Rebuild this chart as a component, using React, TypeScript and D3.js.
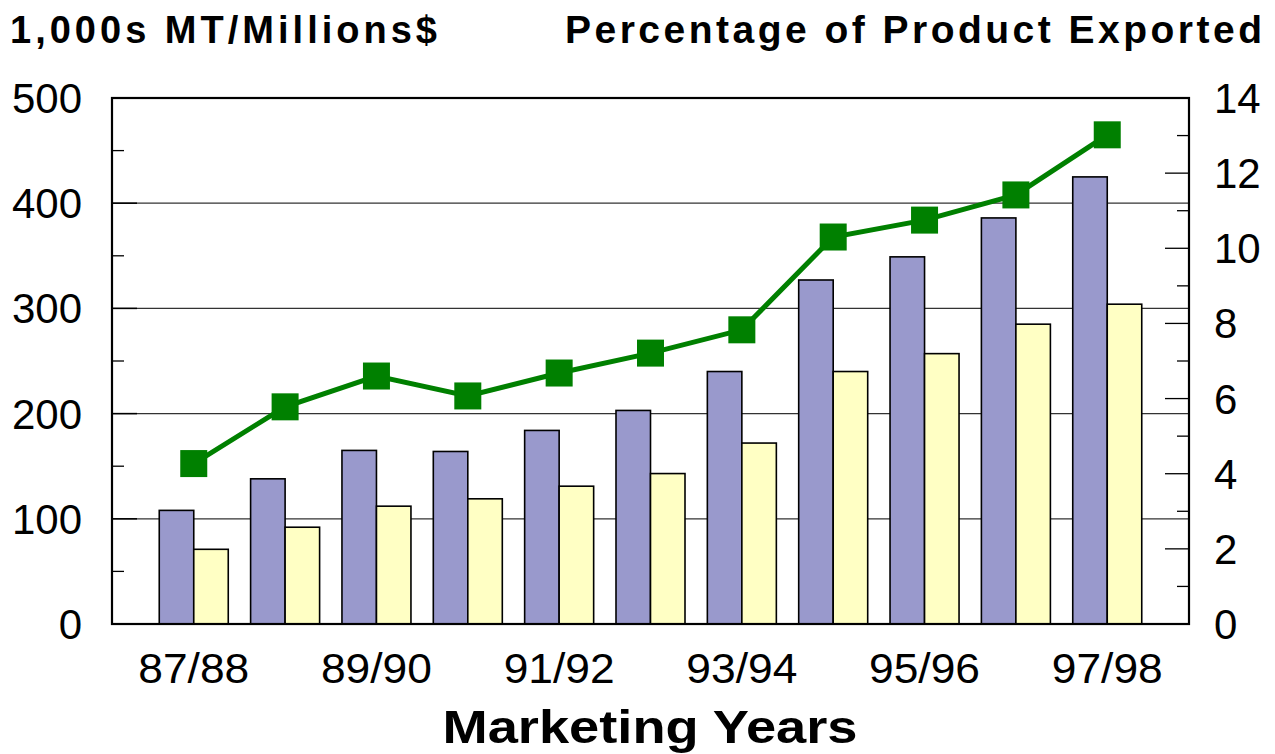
import React, { useEffect } from "react";
import * as d3 from "d3";

const years = ["87/88", "88/89", "89/90", "90/91", "91/92", "92/93", "93/94", "94/95", "95/96", "96/97", "97/98"];
const quantity = [108, 138, 165, 164, 184, 203, 240, 327, 349, 386, 425];
const value = [71, 92, 112, 119, 131, 143, 172, 240, 257, 285, 304];
const pctExported = [4.27, 5.78, 6.6, 6.07, 6.68, 7.21, 7.83, 10.3, 10.75, 11.42, 13.02];
const leftTicks = [0, 100, 200, 300, 400, 500];
const rightTicks = [0, 2, 4, 6, 8, 10, 12, 14];
const shownYears = ["87/88", "89/90", "91/92", "93/94", "95/96", "97/98"];

const W = 1275, H = 754;
const L = 112, R = 1189, T = 98, B = 624;
const FONT = "'Liberation Sans', Arial, Helvetica, sans-serif";

export default function App() {
  useEffect(() => {
    document.body.style.margin = "0";
  }, []);
  const x = d3.scalePoint<string>().domain(years).range([L, R]).padding(0.895);
  const yL = d3.scaleLinear().domain([0, 500]).range([B, T]);
  const yR = d3.scaleLinear().domain([0, 14]).range([B, T]);
  const bw = 34.5;
  const leftMinor = d3.range(50, 500, 100);
  const rightMinor = d3.range(1, 14, 2);
  const line = d3.line<number>().x((_, i) => x(years[i])!).y((d) => yR(d));
  const ms = 27;

  return (
    <svg width={W} height={H} style={{ position: "absolute", left: 0, top: 0, background: "#fff" }}>
      {/* gridlines */}
      {leftTicks.filter((t) => t > 0 && t < 500).map((t) => (
        <line key={"g" + t} x1={L} x2={R} y1={yL(t)} y2={yL(t)} stroke="#333" strokeWidth={1.3} />
      ))}
      {leftTicks.filter((t) => t > 0 && t < 500).map((t) => (
        <line key={"gt" + t} x1={L} x2={L + 25} y1={yL(t)} y2={yL(t)} stroke="#000" strokeWidth={1.5} />
      ))}
      {leftMinor.map((t) => (
        <line key={"lm" + t} x1={L} x2={L + 12} y1={yL(t)} y2={yL(t)} stroke="#000" strokeWidth={1.3} />
      ))}
      {rightTicks.filter((t) => t > 0 && t < 14).map((t) => (
        <line key={"rt" + t} x1={R - 24} x2={R} y1={yR(t)} y2={yR(t)} stroke="#000" strokeWidth={1.3} />
      ))}
      {rightMinor.map((t) => (
        <line key={"rm" + t} x1={R - 12} x2={R} y1={yR(t)} y2={yR(t)} stroke="#000" strokeWidth={1.3} />
      ))}
      {/* bars */}
      {years.map((yr, i) => (
        <g key={"b" + yr}>
          <rect x={x(yr)! - bw} y={yL(quantity[i])} width={bw} height={B - yL(quantity[i])} fill="#9999CC" stroke="#000" strokeWidth={1.6} />
          <rect x={x(yr)!} y={yL(value[i])} width={bw} height={B - yL(value[i])} fill="#FFFFC4" stroke="#000" strokeWidth={1.6} />
        </g>
      ))}
      {/* frame */}
      <rect x={L} y={T} width={R - L} height={B - T} fill="none" stroke="#000" strokeWidth={2.2} />
      {/* line */}
      <path d={line(pctExported)!} fill="none" stroke="#008000" strokeWidth={5} />
      {pctExported.map((v, i) => (
        <rect key={"m" + i} x={x(years[i])! - ms / 2} y={yR(v) - ms / 2} width={ms} height={ms} fill="#008000" />
      ))}
      {/* axis labels */}
      {leftTicks.map((t) => (
        <text key={"ll" + t} x={82} y={yL(t) + 15} textAnchor="end" fontFamily={FONT} fontSize={42} fill="#000">{t}</text>
      ))}
      {rightTicks.map((t) => (
        <text key={"rl" + t} x={1214} y={yR(t) + 15} textAnchor="start" fontFamily={FONT} fontSize={42} fill="#000">{t}</text>
      ))}
      {shownYears.map((yr) => (
        <text key={"xl" + yr} x={x(yr)!} y={682.5} textAnchor="middle" fontFamily={FONT} fontSize={43} textLength={111} lengthAdjust="spacingAndGlyphs" fill="#000">{yr}</text>
      ))}
      <text x={650} y={743} textAnchor="middle" fontFamily={FONT} fontSize={47} fontWeight="bold" textLength={415} lengthAdjust="spacingAndGlyphs" fill="#000">Marketing Years</text>
      <text x={10} y={42.5} fontFamily={FONT} fontSize={38} fontWeight="bold" textLength={427} lengthAdjust="spacing" fill="#000">1,000s MT/Millions$</text>
      <text x={565} y={42.5} fontFamily={FONT} fontSize={39} fontWeight="bold" textLength={697} lengthAdjust="spacing" fill="#000">Percentage of Product Exported</text>
    </svg>
  );
}
